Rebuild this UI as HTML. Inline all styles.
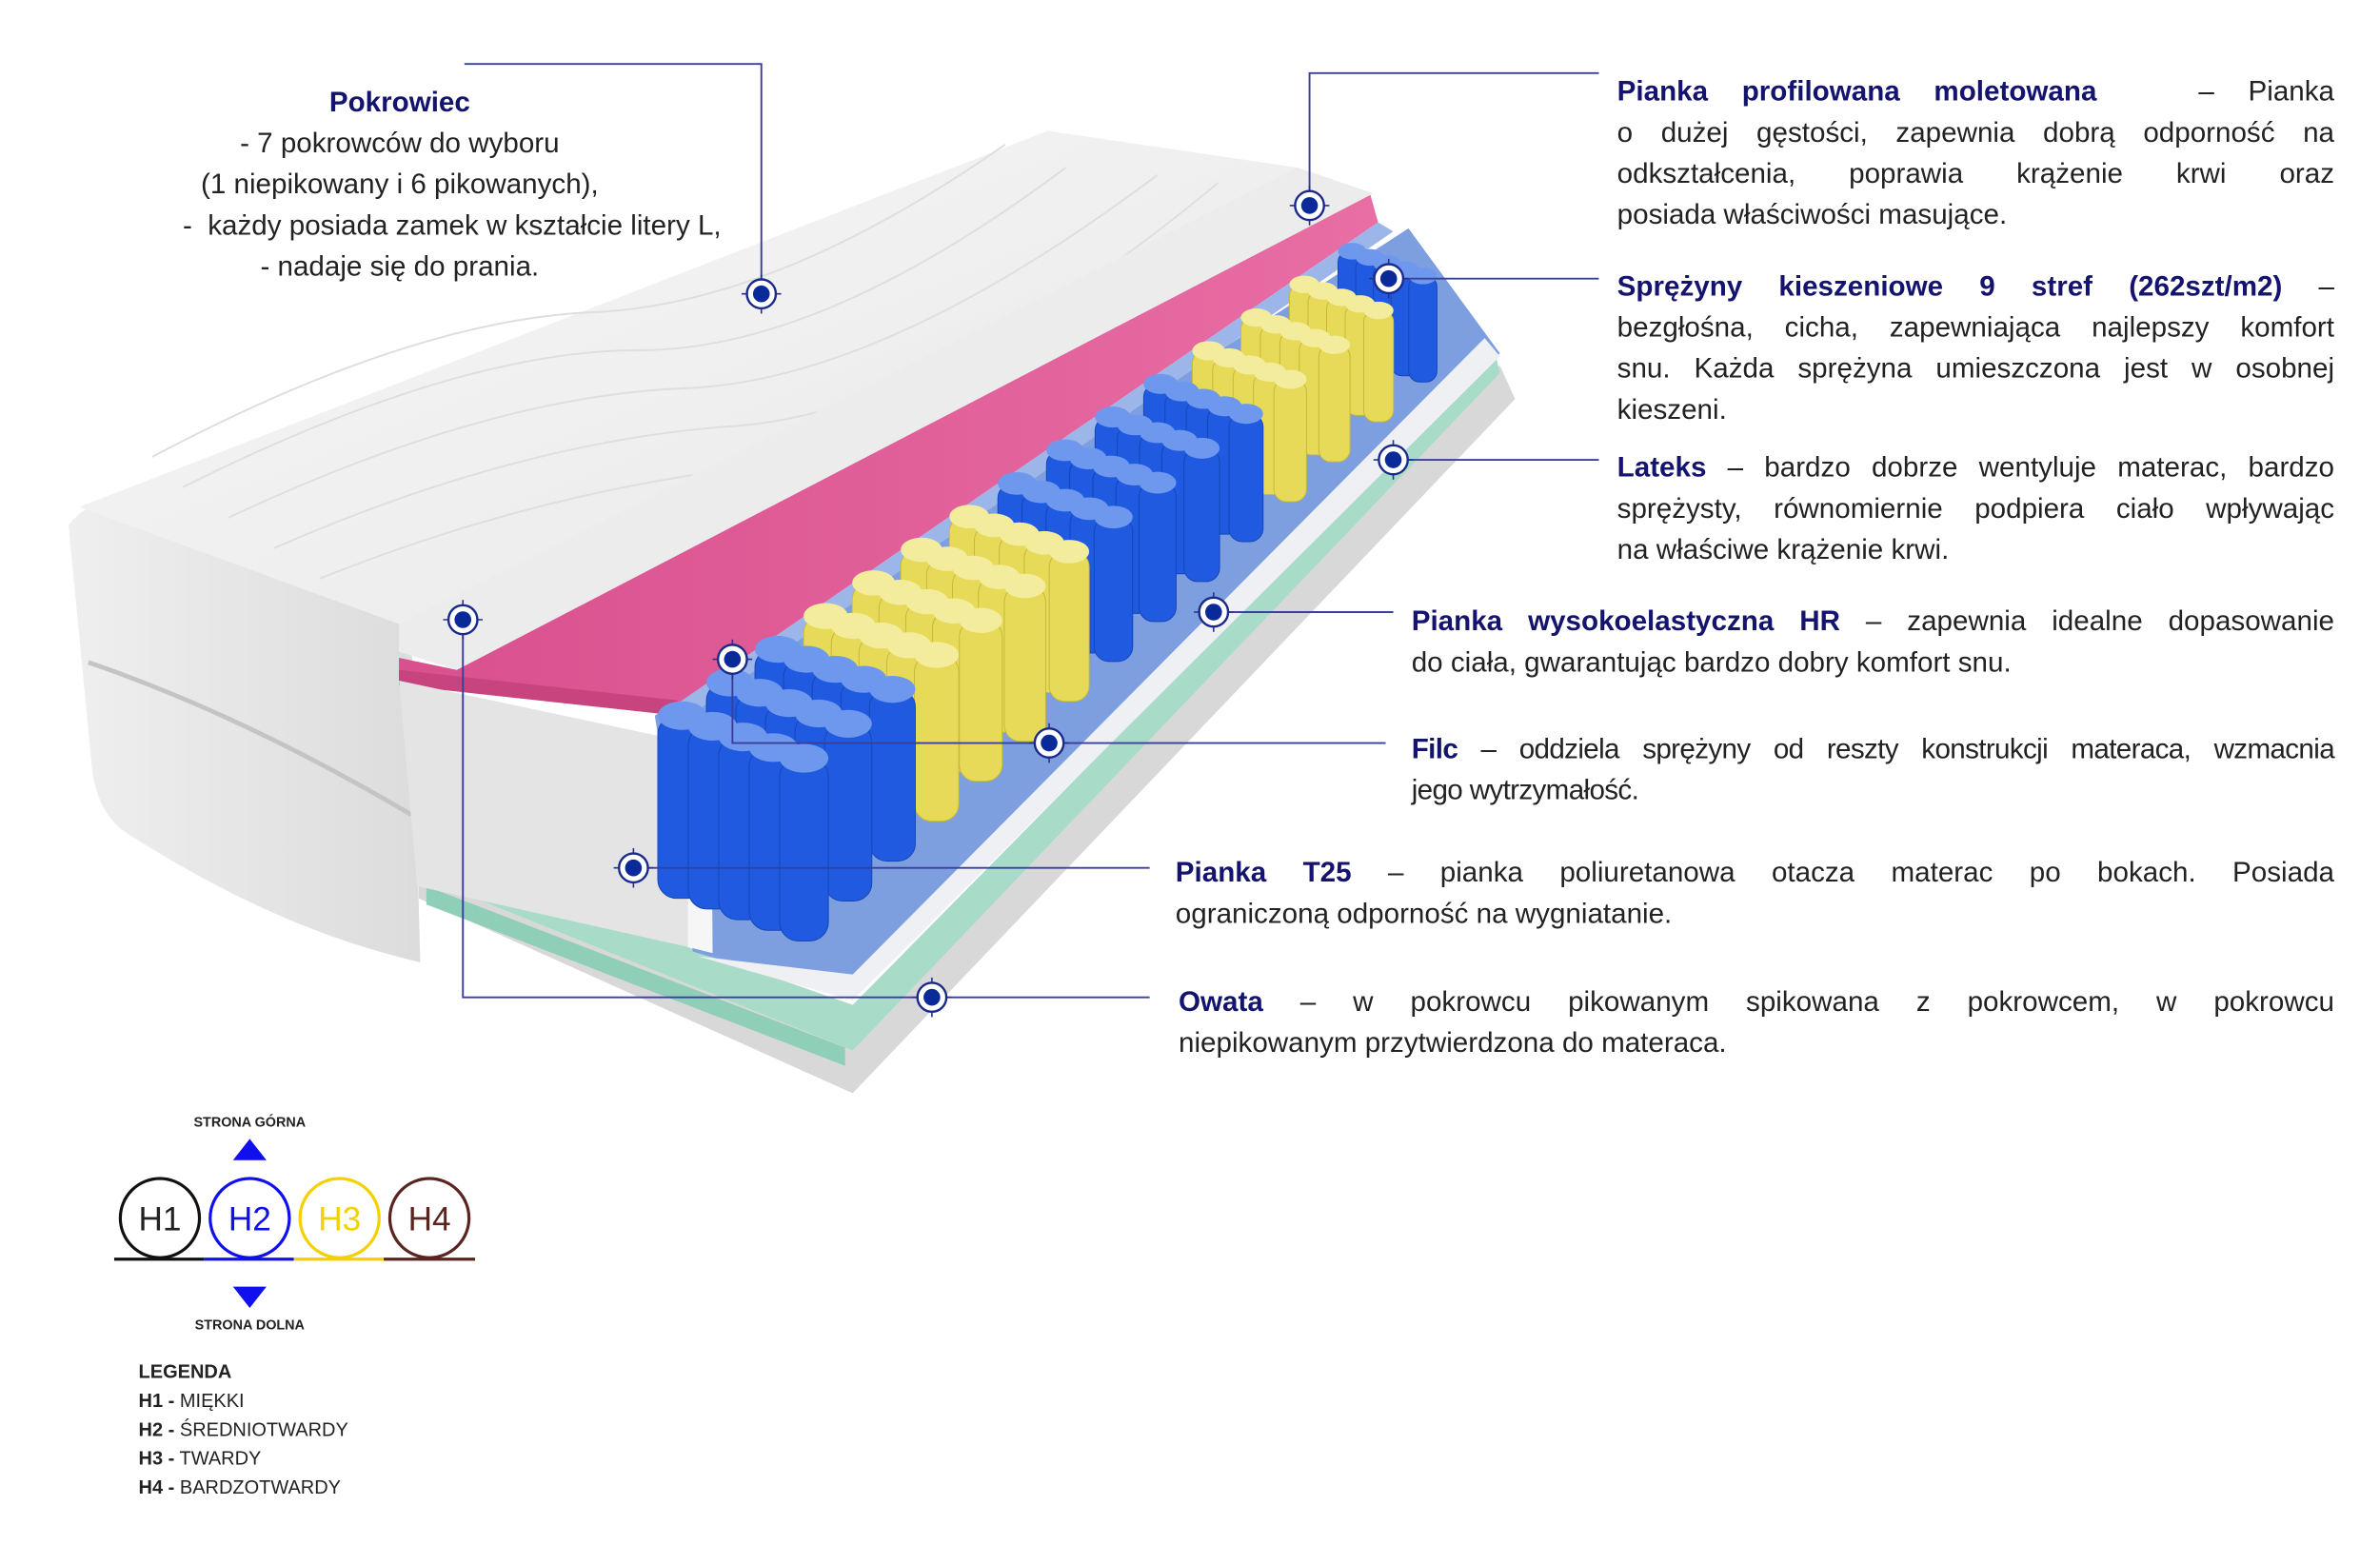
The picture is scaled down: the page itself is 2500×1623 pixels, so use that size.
<!DOCTYPE html>
<html><head><meta charset="utf-8">
<style>
html,body{margin:0;padding:0;background:#fff;}
body{width:2500px;height:1623px;overflow:hidden;position:relative;}
#s{position:absolute;left:0;top:0;width:1563px;height:1015px;transform:scale(1.59949);transform-origin:0 0;font-family:"Liberation Sans",sans-serif;color:#222;}
.t{position:absolute;font-size:18.5px;line-height:27px;white-space:nowrap;}
.j{text-align:justify;text-align-last:justify;}
b{color:#14146e;font-weight:bold;}
.c{text-align:center;}
svg{position:absolute;left:0;top:0;}
</style></head><body>
<div id="s">
<svg width="1563" height="1015" viewBox="0 0 1563 1015">
<defs>
<linearGradient id="cov" x1="0" y1="0" x2="1" y2="1"><stop offset="0" stop-color="#f7f7f7"/><stop offset="1" stop-color="#e8e8e8"/></linearGradient>
<linearGradient id="front" x1="0" y1="0" x2="1" y2="0"><stop offset="0" stop-color="#efefef"/><stop offset="1" stop-color="#dcdcdc"/></linearGradient>
<linearGradient id="pink" x1="0" y1="0" x2="1" y2="0"><stop offset="0" stop-color="#d9508e"/><stop offset="1" stop-color="#e86ea4"/></linearGradient>
</defs>
<polygon points="275,590 560,718 995,262 985,240 560,690 275,575" fill="#d8d8d8"/>
<polygon points="275,575 560,690 985,245 982,232 560,660 275,560" fill="#a8dcc8"/>
<polygon points="280,582 555,688 555,700 280,594" fill="#8fcfb7"/>
<polygon points="430,470 925,150 985,232 560,655 455,625" fill="#7d9fe0"/>
<polygon points="458,628 560,657 985,234 975,222 560,640" fill="#eef0f4"/>
<path d="M45,345 Q60,325 90,330 L270,410 L276,632 Q180,610 80,545 Q62,530 60,500 Z" fill="url(#front)"/>
<path d="M58,435 Q160,470 270,535" stroke="#c4c4c4" stroke-width="3" fill="none"/>
<polygon points="52,333 688,86 852,110 268,412" fill="url(#cov)"/>
<g stroke="#dedede" stroke-width="1.2" fill="none">
<path d="M120,320 Q300,230 420,230 T700,110"/><path d="M150,340 Q320,260 450,255 T760,115"/>
<path d="M180,360 Q340,290 480,280 T800,120"/><path d="M100,300 Q270,210 390,205 T660,95"/>
<path d="M210,380 Q360,320 510,305 T830,125"/>
</g>
<polygon points="262,410 852,110 902,127 300,440 262,428" fill="#ececec"/>
<polygon points="262,432 300,440 900,128 905,146 445,462 262,447" fill="url(#pink)"/>
<polygon points="262,440 445,460 445,470 262,450" fill="#c8447e"/>
<polygon points="445,462 905,146 915,152 450,472" fill="#9cb6ea"/>
<polygon points="262,447 450,487 452,622 274,582" fill="#e4e4e4"/>
<polygon points="450,487 467,490 468,626 452,622" fill="#f6f6f6"/>
<g id="spr"></g>
<g stroke="#3a3f9a" stroke-width="1.2" fill="none">
<polyline points="305,42 500,42 500,193"/>
<polyline points="860,135 860,48 1050,48"/>
<line x1="912" y1="183" x2="1050" y2="183"/>
<line x1="915" y1="302" x2="1050" y2="302"/>
<line x1="797" y1="402" x2="915" y2="402"/>
<polyline points="481,433 481,488 910,488"/>
<line x1="416" y1="570" x2="755" y2="570"/>
<polyline points="304,407 304,655 755,655"/>
</g>
<g id="mk"></g>
<text x="164" y="740" font-size="9" font-weight="bold" text-anchor="middle" fill="#222" font-family="Liberation Sans">STRONA GÓRNA</text>
<polygon points="164,748 175,762 153,762" fill="#1010ee"/>
<circle cx="105" cy="800" r="26" fill="none" stroke="#111" stroke-width="2"/>
<circle cx="164" cy="800" r="26" fill="none" stroke="#1010ee" stroke-width="2"/>
<circle cx="223" cy="800" r="26" fill="none" stroke="#f5d000" stroke-width="2"/>
<circle cx="282" cy="800" r="26" fill="none" stroke="#5a2420" stroke-width="2"/>
<g font-family="Liberation Sans" font-size="22" text-anchor="middle">
<text x="105" y="808" fill="#222">H1</text><text x="164" y="808" fill="#1010ee">H2</text>
<text x="223" y="808" fill="#f5d000">H3</text><text x="282" y="808" fill="#5a2420">H4</text></g>
<line x1="75" y1="827" x2="134" y2="827" stroke="#111" stroke-width="2"/>
<line x1="134" y1="827" x2="193" y2="827" stroke="#1010ee" stroke-width="2"/>
<line x1="193" y1="827" x2="252" y2="827" stroke="#f5d000" stroke-width="2"/>
<line x1="252" y1="827" x2="312" y2="827" stroke="#5a2420" stroke-width="2"/>
<polygon points="153,845 175,845 164,859" fill="#1010ee"/>
<text x="164" y="873" font-size="9" font-weight="bold" text-anchor="middle" fill="#222" font-family="Liberation Sans">STRONA DOLNA</text>
<g font-family="Liberation Sans" font-size="12.5" fill="#222">
<text x="91" y="905" font-weight="bold">LEGENDA</text>
<text x="91" y="924"><tspan font-weight="bold">H1 -</tspan> MIĘKKI</text>
<text x="91" y="943"><tspan font-weight="bold">H2 -</tspan> ŚREDNIOTWARDY</text>
<text x="91" y="962"><tspan font-weight="bold">H3 -</tspan> TWARDY</text>
<text x="91" y="981"><tspan font-weight="bold">H4 -</tspan> BARDZOTWARDY</text>
</g>
</svg>

<div class="t c" style="left:120px;top:53px;width:285px;line-height:27px;"><b>Pokrowiec</b><br>- 7 pokrowców do wyboru<br>(1 niepikowany i 6 pikowanych),<br>-&nbsp; każdy posiada zamek w kształcie litery L,<br>- nadaje się do prania.</div>

<div class="t" style="left:1062px;top:46px;width:471px;">
<div class="j"><b>Pianka profilowana moletowana</b> &nbsp; – Pianka</div>
<div class="j">o dużej gęstości, zapewnia dobrą odporność na</div>
<div class="j">odkształcenia, poprawia krążenie krwi oraz</div>
<div>posiada właściwości masujące.</div></div>

<div class="t" style="left:1062px;top:174px;width:471px;">
<div class="j"><b>Sprężyny kieszeniowe 9 stref (262szt/m2)</b> –</div>
<div class="j">bezgłośna, cicha, zapewniająca najlepszy komfort</div>
<div class="j">snu. Każda sprężyna umieszczona jest w osobnej</div>
<div>kieszeni.</div></div>

<div class="t" style="left:1062px;top:293px;width:471px;">
<div class="j"><b>Lateks</b> – bardzo dobrze wentyluje materac, bardzo</div>
<div class="j">sprężysty, równomiernie podpiera ciało wpływając</div>
<div>na właściwe krążenie krwi.</div></div>

<div class="t" style="left:927px;top:394px;width:606px;">
<div class="j"><b>Pianka wysokoelastyczna HR</b> – zapewnia idealne dopasowanie</div>
<div>do ciała, gwarantując bardzo dobry komfort snu.</div></div>

<div class="t" style="left:927px;top:478px;width:606px;letter-spacing:-0.4px;">
<div class="j"><b>Filc</b> – oddziela sprężyny od reszty konstrukcji materaca, wzmacnia</div>
<div>jego wytrzymałość.</div></div>

<div class="t" style="left:772px;top:559px;width:761px;">
<div class="j"><b>Pianka T25</b> – pianka poliuretanowa otacza materac po bokach. Posiada</div>
<div>ograniczoną odporność na wygniatanie.</div></div>

<div class="t" style="left:774px;top:644px;width:759px;">
<div class="j"><b>Owata</b> – w pokrowcu pikowanym spikowana z pokrowcem, w pokrowcu</div>
<div>niepikowanym przytwierdzona do materaca.</div></div>
</div>
<script>
(function(){
var g=document.getElementById("spr"),out="";
var N=15,R=5;
for(var i=N-1;i>=0;i--){var t=i/(N-1);
 var yel=(i>=3&&i<=6)||(i>=11&&i<=13);
 var k=1-0.42*t;
 for(var j=0;j<R;j++){
  var x=448+t*440+j*20*k, y=470-t*305+j*7*k;
  var w=32*k,h=120*k;
  var c=yel?"#e6da58":"#1f5ae0",c2=yel?"#f3ec9c":"#6e98ee",cs=yel?"#c6b838":"#1646b4";
  out+='<rect x="'+(x-w/2)+'" y="'+y+'" width="'+w+'" height="'+h+'" rx="'+(w/2.6)+'" fill="'+c+'" stroke="'+cs+'" stroke-width="0.6"/>';
  out+='<ellipse cx="'+x+'" cy="'+y+'" rx="'+(w/2)+'" ry="'+(w/3.4)+'" fill="'+c2+'"/>';
 }}
g.innerHTML=out;
var m=document.getElementById("mk"),o="";
[[500,193],[860,135],[912,183],[915,302],[797,402],[481,433],[689,488],[416,570],[304,407],[612,655]].forEach(function(p){
 o+='<line x1="'+(p[0]-13)+'" y1="'+p[1]+'" x2="'+(p[0]+13)+'" y2="'+p[1]+'" stroke="#2a3090" stroke-width="1"/>';
 o+='<line x1="'+p[0]+'" y1="'+(p[1]-13)+'" x2="'+p[0]+'" y2="'+(p[1]+13)+'" stroke="#2a3090" stroke-width="1"/>';
 o+='<circle cx="'+p[0]+'" cy="'+p[1]+'" r="9.5" fill="#fff" stroke="#1a2a8a" stroke-width="1.5"/>';
 o+='<circle cx="'+p[0]+'" cy="'+p[1]+'" r="5.5" fill="#0a2a9a"/>';
});
m.innerHTML=o;
})();
</script>
</body></html>
